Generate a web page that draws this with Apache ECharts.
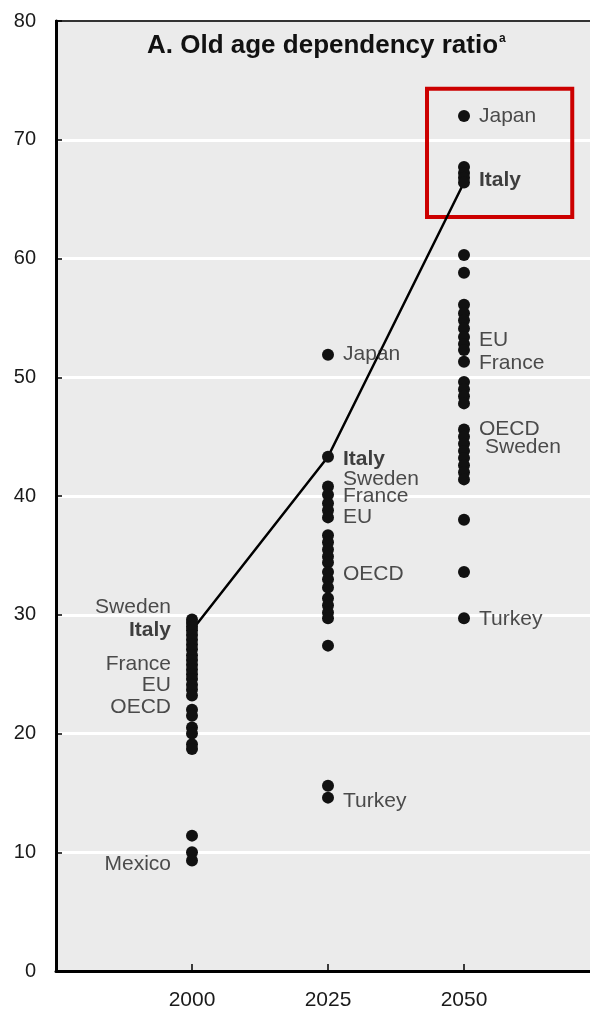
<!DOCTYPE html>
<html><head><meta charset="utf-8">
<script src="https://cdn.jsdelivr.net/npm/echarts@6/dist/echarts.min.js"></script>
<style>html,body{margin:0;padding:0;background:#fff}#c{width:590px;height:1018px}</style>
</head><body><div id="c"></div>
<script>
// ---- data ----
const years = [2000, 2025, 2050];
const dots2000 = [29.6, 29.3, 29.0, 28.7, 28.3, 27.9, 27.5, 27.1, 26.6, 26.2, 25.8, 25.4, 25.0, 24.6, 24.1, 23.7, 23.2, 22.0, 21.5, 20.5, 20.0, 19.1, 18.7, 11.4, 10.0, 9.3];
const dots2025 = [51.9, 43.3, 40.8, 40.1, 39.4, 38.8, 38.2, 36.7, 36.1, 35.5, 34.9, 34.4, 33.6, 33.0, 32.3, 31.4, 30.8, 30.2, 29.7, 27.4, 15.6, 14.6];
const dots2050 = [72.0, 67.7, 67.2, 66.8, 66.4, 60.3, 58.8, 56.1, 55.4, 54.8, 54.1, 53.4, 52.8, 52.3, 51.3, 49.6, 49.0, 48.4, 47.8, 45.6, 45.0, 44.4, 43.8, 43.2, 42.6, 42.0, 41.4, 38.0, 33.6, 29.7];
const italy = [28.7, 43.3, 66.4];
const labels2000 = [["Sweden", 30.6], ["Italy", 28.7], ["France", 25.8], ["EU", 24.1], ["OECD", 22.2], ["Mexico", 9.0]];
const labels2025 = [["Japan", 51.9], ["Italy", 43.1], ["Sweden", 41.4], ["France", 40.0], ["EU", 38.2], ["OECD", 33.4], ["Turkey", 14.3]];
const labels2050 = [["Japan", 72.0], ["Italy", 66.6], ["EU", 53.1], ["France", 51.2], ["OECD", 45.6], ["Sweden", 44.1], ["Turkey", 29.6]];
const highlightBox = [[2043.2, 74.3], [2069.9, 63.5]];
const titleText = "A. Old age dependency ratio";
const titleNote = "a";

// ---- chart ----
const FONT = '"Liberation Sans", Arial, sans-serif';
const chart = echarts.init(document.getElementById('c'), null, {renderer: 'canvas'});

function dotData() {
  const out = [];
  [dots2000, dots2025, dots2050].forEach((arr, i) => arr.forEach(v => out.push([years[i], v])));
  return out;
}
function labelSeries(year, list, side) {
  return {
    type: 'scatter',
    symbolSize: 0,
    silent: true,
    z: 4,
    itemStyle: {color: 'transparent'},
    data: list.map(([name, v]) => ({
      value: [year, v],
      name: name,
      label: {
        fontWeight: name === 'Italy' ? 'bold' : 'normal',
        color: name === 'Italy' ? '#111' : '#222',
        offset: (year === 2050 && name === 'Sweden') ? [6, 0] : [0, 0]
      }
    })),
    label: {
      show: true,
      position: side,
      distance: side === 'left' ? 21 : 15,
      formatter: p => p.name,
      fontFamily: FONT,
      fontSize: 21
    }
  };
}

chart.setOption({
  animation: false,
  backgroundColor: '#fff',
  title: {
    text: '{m|' + titleText + '}{s|' + titleNote + '}',
    left: 142,
    top: 28,
    textStyle: {
      rich: {
        m: {fontFamily: FONT, fontWeight: 'bold', fontSize: 26, color: '#111'},
        s: {fontFamily: FONT, fontWeight: 'bold', fontSize: 12, color: '#111', verticalAlign: 'top', padding: [0, 0, 13, 1]}
      }
    }
  },
  grid: {
    left: 56, top: 21, width: 544, height: 950,
    outerBoundsMode: 'none', containLabel: false,
    show: true, backgroundColor: '#ebebeb', borderColor: '#333', borderWidth: 2
  },
  xAxis: {
    type: 'value', min: 1975, max: 2075, interval: 25,
    axisLine: {show: true, onZero: false, lineStyle: {color: '#000', width: 3}},
    axisTick: {show: true, inside: true, length: 7, customValues: years, lineStyle: {color: '#000', width: 1.5}},
    axisLabel: {customValues: years, formatter: v => String(v), fontFamily: FONT, fontSize: 21, color: '#1a1a1a', margin: 19},
    splitLine: {show: false}
  },
  yAxis: {
    type: 'value', min: 0, max: 80, interval: 10,
    axisLine: {show: true, onZero: false, lineStyle: {color: '#000', width: 3}},
    axisTick: {show: true, inside: true, length: 6, lineStyle: {color: '#000', width: 1.5}},
    axisLabel: {fontFamily: FONT, fontSize: 20, color: '#1a1a1a', margin: 20},
    splitLine: {show: true, showMinLine: false, showMaxLine: false, lineStyle: {color: '#fff', width: 3}}
  },
  series: [
    {
      type: 'line',
      z: 2,
      symbol: 'none',
      silent: true,
      data: years.map((y, i) => [y, italy[i]]),
      lineStyle: {color: '#000', width: 2.5},
      markArea: {
        silent: true,
        itemStyle: {color: 'rgba(0,0,0,0)', borderColor: '#cc0000', borderWidth: 4},
        data: [[{coord: highlightBox[0]}, {coord: highlightBox[1]}]]
      }
    },
    {
      type: 'scatter',
      z: 3,
      symbolSize: 12,
      silent: true,
      itemStyle: {color: '#111', opacity: 1},
      data: dotData()
    },
    labelSeries(2000, labels2000, 'left'),
    labelSeries(2025, labels2025, 'right'),
    labelSeries(2050, labels2050, 'right')
  ]
});
</script>
</body></html>
